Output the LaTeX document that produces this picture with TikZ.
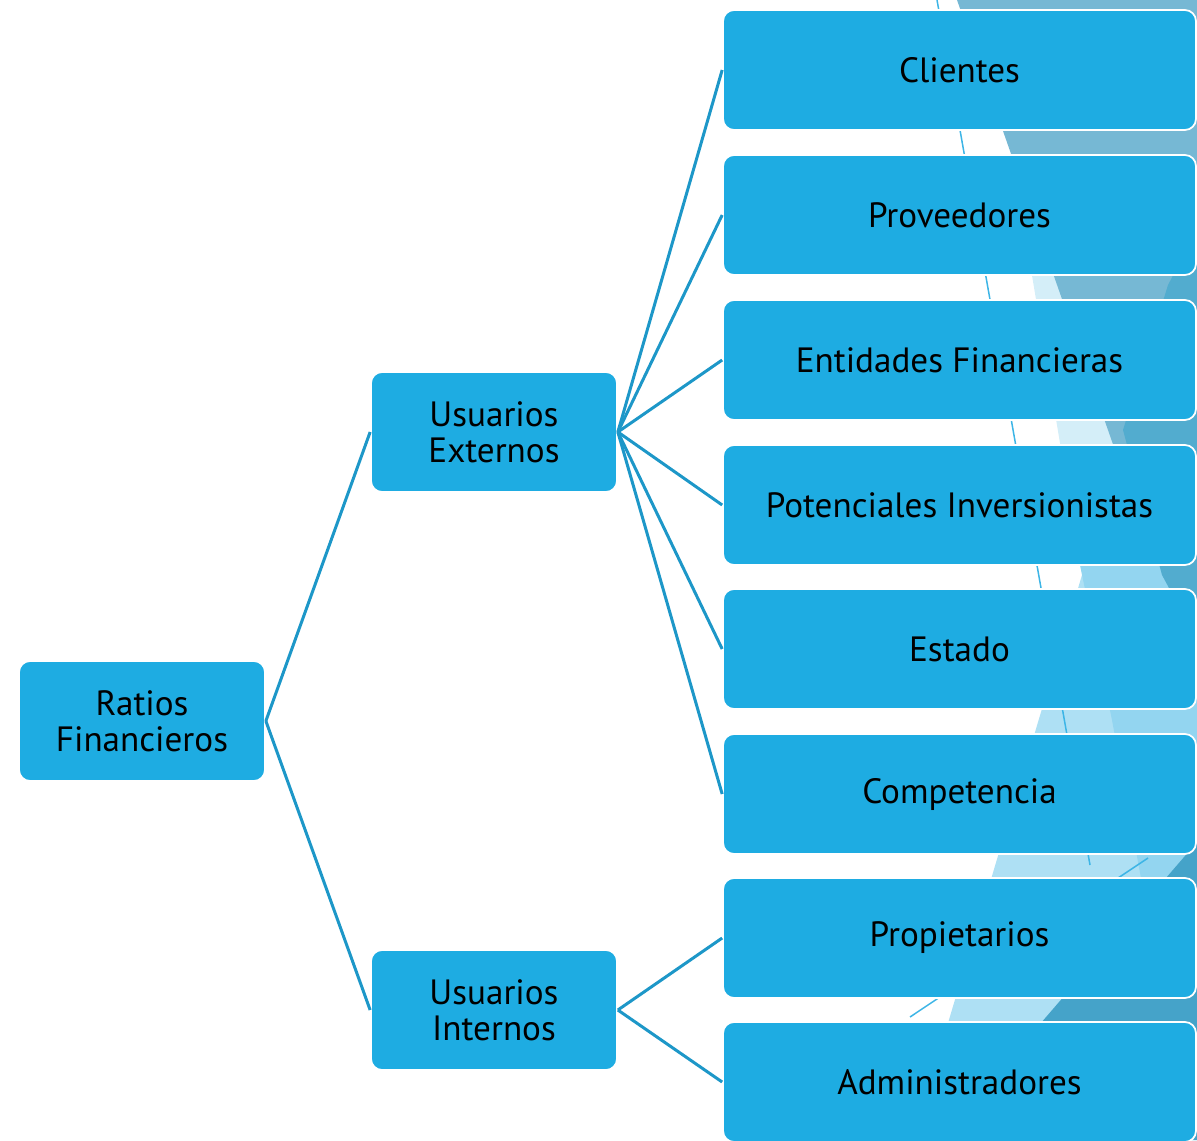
\documentclass[tikz,border=0pt]{standalone}
\usepackage{fontspec}
\setmainfont{PT Sans}
\definecolor{boxblue}{HTML}{1EACE2}
\definecolor{linkblue}{HTML}{1D97C8}
\definecolor{facetA}{HTML}{D4EEF8}
\definecolor{facetB}{HTML}{AEE0F4}
\definecolor{facetC}{HTML}{93D5F0}
\definecolor{facetD}{HTML}{76B8D4}
\definecolor{facetE}{HTML}{52ACCF}
\definecolor{facetF}{HTML}{45A3C9}
\definecolor{facetL}{HTML}{3DB5E6}
\tikzstyle{block} = [draw=white, line width=1pt, fill=boxblue, rounded corners=0.22cm, minimum height=2.4cm, minimum width=4.92cm, align=center, font=\fontsize{20}{20.5}\selectfont]
\tikzstyle{leaf} = [block, minimum width=9.46cm]
\tikzstyle{link} = [draw=linkblue, line width=0.06cm]

\begin{document}
\begin{tikzpicture}[x=0.02cm, y=-0.02cm]
	\useasboundingbox (0,0) rectangle (1197,1140);
	
	\fill[facetA] (986,0) -- (1082,575) -- (1197,575) -- (1197,0) -- cycle;
	\fill[facetB] (1082,575) -- (913,1140) -- (1197,1140) -- (1197,575) -- cycle;
	\fill[facetC] (1080,565) -- (1197,565) -- (1197,900) -- (1145,900) -- (1112,720) -- cycle;
	\fill[facetD] (957,0) -- (1115,450) -- (1197,450) -- (1197,0) -- cycle;
	\fill[facetE] (1197,230) -- (1168,285) -- (1123,430) -- (1162,575) -- (1197,640) -- cycle;
	\fill[facetF] (1197,842) -- (940,1140) -- (1197,1140) -- cycle;
	\draw[facetL, line width=0.03cm] (937,0) -- (1090,865);
	\draw[facetL, line width=0.03cm] (910,1017) -- (1148,858);
	
	\node (RATIOS) [block] at (142,721) {Ratios\\Financieros};
	\node (EXT_USERS) [block] at (494,432) {Usuarios\\Externos};
	\node (INT_USERS) [block] at (494,1010) {Usuarios\\Internos};
	
	\node (CLIENTS) [leaf] at (959.5,70) {Clientes};
	\node (SUPPLIERS) [leaf] at (959.5,215) {Proveedores};
	\node (BANKS) [leaf] at (959.5,360) {Entidades Financieras};
	\node (INVESTORS) [leaf] at (959.5,505) {Potenciales Inversionistas};
	\node (STATE) [leaf] at (959.5,649) {Estado};
	\node (COMPETITION) [leaf] at (959.5,794) {Competencia};
	\node (OWNERS) [leaf] at (959.5,938) {Propietarios};
	\node (MANAGERS) [leaf] at (959.5,1082) {Administradores};
	
	\draw[link](RATIOS.east)--(EXT_USERS.west);
	\draw[link](RATIOS.east)--(INT_USERS.west);
	\draw[link](EXT_USERS.east)--(CLIENTS.west);
	\draw[link](EXT_USERS.east)--(SUPPLIERS.west);
	\draw[link](EXT_USERS.east)--(BANKS.west);
	\draw[link](EXT_USERS.east)--(INVESTORS.west);
	\draw[link](EXT_USERS.east)--(STATE.west);
	\draw[link](EXT_USERS.east)--(COMPETITION.west);
	\draw[link](INT_USERS.east)--(OWNERS.west);
	\draw[link](INT_USERS.east)--(MANAGERS.west);
\end{tikzpicture}
\end{document}
